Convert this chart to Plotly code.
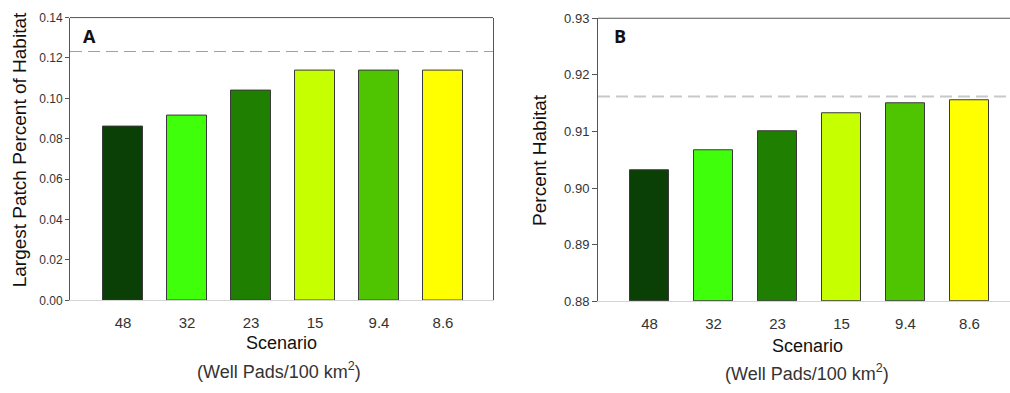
import plotly.graph_objects as go

scenarios = ["48", "32", "23", "15", "9.4", "8.6"]
colors = ["#0a3f05", "#3fff0a", "#1e7f00", "#c6ff00", "#4fc400", "#ffff00"]
largest_patch = [0.0860, 0.0916, 0.1040, 0.1138, 0.1138, 0.1138]
percent_habitat = [0.9031, 0.9066, 0.9100, 0.9132, 0.9150, 0.9155]
ref_largest_patch = 0.1232
ref_percent_habitat = 0.9162
y2_floor = 0.88

W, H = 1010, 393
FONT = "Liberation Sans, Arial, sans-serif"

def px(x):
    return x / W

def py(y):
    return 1 - y / H

fig = go.Figure()
fig.add_trace(go.Bar(x=scenarios, y=largest_patch,
                     marker=dict(color=colors, line=dict(color="#3a3a3a", width=1)),
                     width=0.61, xaxis="x", yaxis="y", showlegend=False))
fig.add_trace(go.Bar(x=scenarios, y=[v - y2_floor for v in percent_habitat], base=y2_floor,
                     marker=dict(color=colors, line=dict(color="#3a3a3a", width=1)),
                     width=0.61, xaxis="x2", yaxis="y2", showlegend=False))

xcommon = dict(type="category", showline=True, linecolor="#d4d4d4", linewidth=1, ticks="",
               showgrid=False, zeroline=False, ticklabelstandoff=9,
               tickfont=dict(family=FONT, size=15, color="#333333"))
fig.update_layout(
    width=W, height=H, margin=dict(l=0, r=0, t=0, b=0),
    paper_bgcolor="white", plot_bgcolor="white", bargap=0,
    xaxis=dict(domain=[px(70), px(493)], range=[-0.828, 5.781], anchor="y", **xcommon),
    yaxis=dict(domain=[py(305), py(11)], range=[0, 0.14], anchor="x", dtick=0.02, tickformat=".2f",
               showline=True, linecolor="#555555", linewidth=1, mirror=True, ticks="outside", ticklen=4,
               tickcolor="#555555", showgrid=False, zeroline=False,
               tickfont=dict(family=FONT, size=12, color="#333333")),
    xaxis2=dict(domain=[px(598), 1.0], range=[-0.805, 5.633], anchor="y2", **xcommon),
    yaxis2=dict(domain=[py(306), py(11.7)], range=[0.88, 0.93], anchor="x2", dtick=0.01, tickformat=".2f",
                showline=True, linecolor="#555555", linewidth=1, mirror=False, ticks="outside", ticklen=5,
                tickcolor="#555555", showgrid=False, zeroline=False,
                tickfont=dict(family=FONT, size=13, color="#333333")),
)

# top border lines
fig.add_shape(type="line", xref="x domain", yref="y domain", x0=0, x1=1, y0=1, y1=1,
              line=dict(color="#555555", width=1))
fig.add_shape(type="line", xref="x2 domain", yref="y2 domain", x0=0, x1=1, y0=1, y1=1,
              line=dict(color="#555555", width=1))
# reference dashed lines
fig.add_shape(type="line", xref="x domain", yref="y", x0=0, x1=1, y0=ref_largest_patch, y1=ref_largest_patch,
              line=dict(color="#a0a0a0", width=1.2, dash="12px,6px"))
fig.add_shape(type="line", xref="x2 domain", yref="y2", x0=0, x1=1, y0=ref_percent_habitat, y1=ref_percent_habitat,
              line=dict(color="#c8c8c8", width=2, dash="12px,6px"))

def ann(text, x, y, size, color="#111111", bold=False, angle=0, family=FONT):
    fig.add_annotation(text=("<b>%s</b>" % text) if bold else text, x=px(x), y=py(y), xref="paper", yref="paper",
                       showarrow=False, textangle=angle, xanchor="center", yanchor="middle",
                       font=dict(family=family, size=size, color=color))

ann("A", 89, 30, 18, bold=True, family="Open Sans, sans-serif")
ann("B", 620, 30, 18, bold=True, family="Open Sans, sans-serif")
ann("Largest Patch Percent of Habitat", 19, 149, 19, angle=-90)
ann("Percent Habitat", 540, 159, 19, angle=-90)
ann("Scenario", 281, 349, 18)
ann("(Well Pads/100 km<sup>2</sup>)", 279, 378, 18, color="#333333")
ann("Scenario", 807, 352, 18)
ann("(Well Pads/100 km<sup>2</sup>)", 807, 380, 18, color="#333333")

fig.write_html("out.html", config={"displayModeBar": False},
               post_script="document.body.style.margin='0';document.body.style.overflow='hidden';")
